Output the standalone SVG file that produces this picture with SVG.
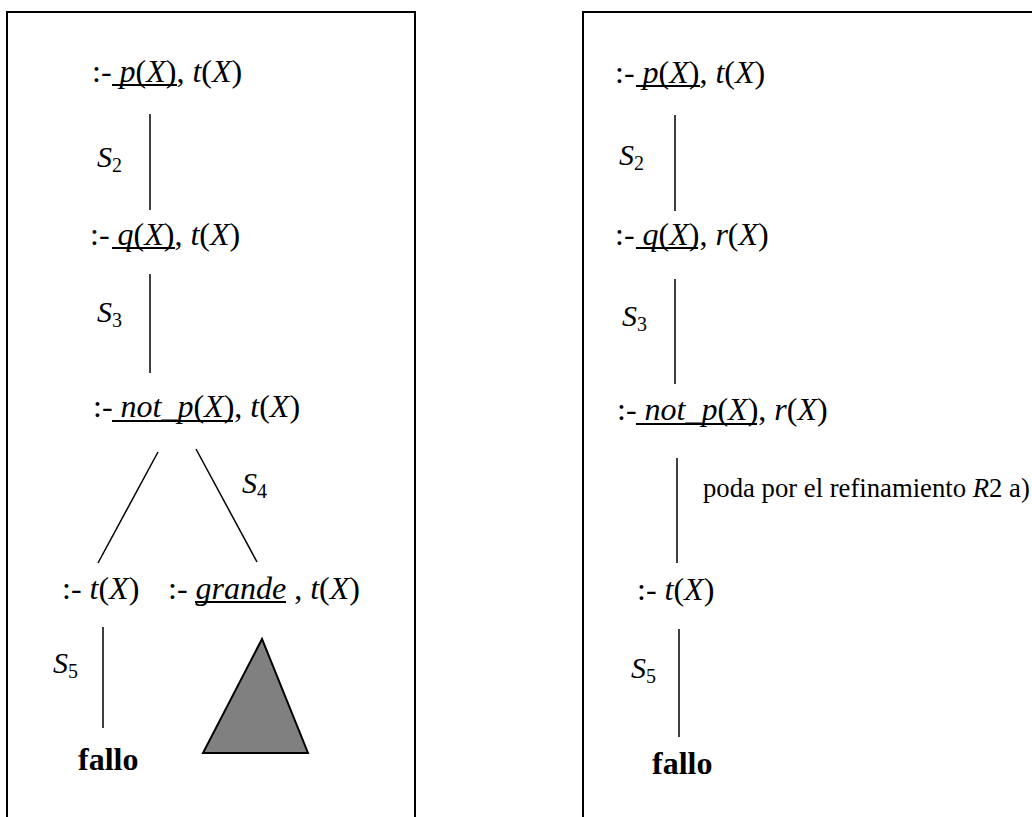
<svg xmlns="http://www.w3.org/2000/svg" width="1032" height="817" viewBox="0 0 1032 817" font-family="'Liberation Serif', 'Noto Serif', 'DejaVu Serif', Tinos, 'Times New Roman', Times, serif">
<style>
text{font-family:"Liberation Serif","Noto Serif","DejaVu Serif",Tinos,"Times New Roman",Times,serif;fill:#000}
.t{font-size:32px}
.i{font-style:italic}
.s{font-size:30px;font-style:italic}
.sub{font-size:20px;font-style:normal}
.b{font-size:32px;font-weight:bold}
.p{font-size:26.7px}
.ln{stroke:#000;stroke-width:1.5;fill:none}
.ul{stroke:#000;stroke-width:2}
.frame{stroke:#000;stroke-width:2;fill:none}
</style>
<rect width="1032" height="817" fill="#fff"/>
<g id="frames">
<path class="frame" d="M7,818 V12 H415 V818"/>
<path class="frame" d="M583,818 V12 H1033"/>
</g>
<g id="connectors">
<line class="ln" x1="150" y1="114" x2="150" y2="210"/>
<line class="ln" x1="150" y1="274" x2="150" y2="373"/>
<line class="ln" x1="158" y1="452" x2="98" y2="563"/>
<line class="ln" x1="196" y1="449" x2="257" y2="562"/>
<line class="ln" x1="103" y1="627" x2="103" y2="728"/>
<line class="ln" x1="675" y1="115" x2="675" y2="211"/>
<line class="ln" x1="675" y1="279" x2="675" y2="384"/>
<line class="ln" x1="677" y1="458" x2="677" y2="563"/>
<line class="ln" x1="679" y1="629" x2="679" y2="737"/>
</g>
<g id="labels">
<text x="97" y="167" class="s">S<tspan class="sub" dy="5">2</tspan></text>
<text x="97" y="322" class="s">S<tspan class="sub" dy="5">3</tspan></text>
<text x="242" y="493" class="s">S<tspan class="sub" dy="5">4</tspan></text>
<text x="53" y="673" class="s">S<tspan class="sub" dy="5">5</tspan></text>
<text x="619" y="165" class="s">S<tspan class="sub" dy="5">2</tspan></text>
<text x="622" y="326" class="s">S<tspan class="sub" dy="5">3</tspan></text>
<text x="631" y="678" class="s">S<tspan class="sub" dy="5">5</tspan></text>
<text x="703" y="497" class="p">poda por el refinamiento <tspan class="i">R</tspan>2 a)</text>
</g>
<g id="n1">
<text x="92" y="82" class="t">:- <tspan class="i">p</tspan>(<tspan class="i">X</tspan>), <tspan class="i">t</tspan>(<tspan class="i">X</tspan>)</text>
<line class="ul" x1="112" y1="85" x2="177" y2="85"/>
</g>
<g id="n2">
<text x="90" y="245" class="t">:- <tspan class="i">q</tspan>(<tspan class="i">X</tspan>), <tspan class="i">t</tspan>(<tspan class="i">X</tspan>)</text>
<line class="ul" x1="112" y1="248" x2="175" y2="248"/>
</g>
<g id="n3">
<text x="93" y="417" class="t">:- <tspan class="i">not_p</tspan>(<tspan class="i">X</tspan>), <tspan class="i">t</tspan>(<tspan class="i">X</tspan>)</text>
<line class="ul" x1="112" y1="421" x2="233" y2="421"/>
</g>
<g id="n4">
<text x="62" y="599" class="t">:- <tspan class="i">t</tspan>(<tspan class="i">X</tspan>)</text>
</g>
<g id="n5">
<text x="168" y="599" class="t">:- <tspan class="i">grande</tspan> , <tspan class="i">t</tspan>(<tspan class="i">X</tspan>)</text>
<line class="ul" x1="195" y1="602" x2="286" y2="602"/>
</g>
<g id="n6">
<text x="78" y="770" class="b">fallo</text>
</g>
<g id="n7">
<polygon points="262,639 203,753 308,753" fill="#808080" stroke="#000" stroke-width="2"/>
</g>
<g id="m1">
<text x="615" y="83" class="t">:- <tspan class="i">p</tspan>(<tspan class="i">X</tspan>), <tspan class="i">t</tspan>(<tspan class="i">X</tspan>)</text>
<line class="ul" x1="636" y1="86" x2="700" y2="86"/>
</g>
<g id="m2">
<text x="615" y="245" class="t">:- <tspan class="i">q</tspan>(<tspan class="i">X</tspan>), <tspan class="i">r</tspan>(<tspan class="i">X</tspan>)</text>
<line class="ul" x1="636" y1="248" x2="698" y2="248"/>
</g>
<g id="m3">
<text x="617" y="420" class="t">:- <tspan class="i">not_p</tspan>(<tspan class="i">X</tspan>), <tspan class="i">r</tspan>(<tspan class="i">X</tspan>)</text>
<line class="ul" x1="636" y1="424" x2="757" y2="424"/>
</g>
<g id="m4">
<text x="637" y="600" class="t">:- <tspan class="i">t</tspan>(<tspan class="i">X</tspan>)</text>
</g>
<g id="m5">
<text x="652" y="774" class="b">fallo</text>
</g>
</svg>
